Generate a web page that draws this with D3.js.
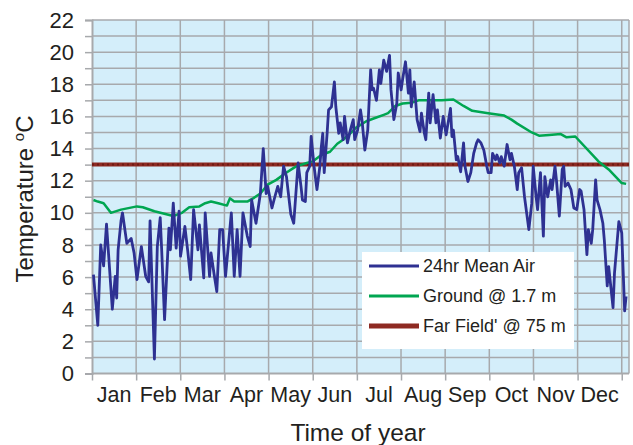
<!DOCTYPE html>
<html>
<head>
<meta charset="utf-8">
<script src="https://cdn.jsdelivr.net/npm/d3@7"></script>
<style>
  body { margin: 0; background: #fff; }
  svg { display: block; font-family: "Liberation Sans", Arial, sans-serif; }
</style>
</head>
<body>
<svg id="chart" width="633" height="445"></svg>
<script>
const months = ["Jan", "Feb", "Mar", "Apr", "May", "Jun", "Jul", "Aug", "Sep", "Oct", "Nov", "Dec"];
const yTicks = [0, 2, 4, 6, 8, 10, 12, 14, 16, 18, 20, 22];

// 24hr mean air temperature (day of year, degC)
const airDay = [1, 4, 6, 8, 10, 14, 16, 17, 18, 20, 21, 24, 27, 29, 31, 34, 37, 39, 40, 43,
  45, 47, 48, 50, 53, 54, 56, 58, 60, 61, 64, 66, 68, 70, 73, 74, 77, 78, 81, 82,
  84, 86, 88, 90, 92, 96, 98, 100, 102, 104, 107, 109, 110, 113, 116, 118, 120, 121, 124, 126,
  128, 130, 132, 134, 135, 137, 139, 142, 144, 145, 147, 148, 150, 151, 153, 155, 157, 158, 159, 160,
  162, 163, 165, 167, 168, 170, 171, 173, 174, 176, 178, 180, 181, 183, 185, 186, 188, 190, 192, 193,
  194, 196, 198, 199, 201, 203, 205, 206, 208, 210, 211, 213, 214, 216, 218, 219, 220, 222, 224, 226,
  227, 229, 230, 232, 233, 235, 237, 238, 240, 242, 244, 247, 248, 249, 251, 252, 254, 256, 257, 259,
  261, 263, 265, 266, 268, 270, 272, 273, 275, 276, 278, 279, 281, 282, 284, 286, 288, 289, 291, 293,
  294, 296, 298, 301, 303, 304, 306, 307, 309, 311, 312, 314, 316, 317, 319, 320, 322, 324, 325, 326,
  328, 330, 332, 334, 336, 337, 339, 341, 342, 344, 345, 347, 348, 350, 352, 353, 355, 356, 359, 360,
  363, 365, 367, 368];
const airTemp = [6.15, 3.0, 8.0, 6.7, 9.3, 4.0, 6.05, 4.7, 7.7, 9.5, 10.0, 8.1, 8.4, 7.5, 5.85, 7.9, 6.05, 5.7, 9.5, 0.9,
  7.9, 9.7, 7.7, 3.35, 9.05, 7.7, 10.6, 7.8, 10.1, 7.3, 9.15, 7.6, 5.85, 10.2, 7.7, 9.25, 5.95, 10.0, 6.05, 7.5,
  6.25, 5.1, 8.95, 8.95, 6.05, 10.0, 6.05, 8.95, 6.05, 10.0, 8.55, 7.9, 10.8, 9.35, 11.2, 14.0, 11.2, 11.65, 10.3, 11.0,
  11.65, 11.0, 12.9, 12.25, 11.45, 9.9, 9.35, 13.1, 11.65, 10.8, 10.7, 12.5, 12.9, 14.75, 12.9, 11.45, 12.9, 14.1, 14.95, 12.5,
  14.95, 16.4, 16.6, 18.15, 16.6, 14.95, 15.6, 14.55, 16.0, 14.35, 15.15, 15.8, 14.55, 15.15, 16.4, 15.8, 13.9, 15.15, 18.9, 17.65,
  17.75, 17.0, 18.9, 18.05, 19.5, 18.8, 19.8, 17.65, 15.8, 16.8, 18.7, 17.65, 18.3, 19.4, 17.45, 18.9, 16.6, 18.15, 15.8, 15.05,
  16.2, 14.95, 14.55, 17.45, 15.6, 17.35, 15.6, 16.4, 14.65, 16.0, 14.85, 16.5, 14.75, 15.15, 13.3, 13.5, 12.55, 14.35, 12.9, 11.95,
  12.5, 13.7, 14.35, 14.55, 14.35, 13.9, 12.9, 12.5, 12.5, 13.7, 13.3, 13.6, 13.1, 13.5, 12.9, 14.25, 13.3, 13.7, 12.9, 11.45,
  12.5, 12.8, 11.0, 8.95, 10.6, 12.9, 11.0, 10.2, 12.5, 8.55, 12.25, 11.0, 12.05, 11.45, 12.9, 12.05, 9.8, 12.7, 12.9, 11.65,
  11.85, 11.45, 10.3, 10.2, 11.45, 11.35, 10.2, 7.4, 8.95, 8.1, 8.95, 12.05, 10.8, 10.2, 9.35, 8.3, 5.45, 6.65, 4.1, 6.25,
  9.45, 8.75, 3.9, 4.8];

// ground temperature at 1.7 m
const groundDay = [1, 4, 8, 13, 20, 31, 35, 43, 56, 62, 67, 74, 78, 82, 87, 93, 95, 98, 107, 111,
  116, 121, 127, 133, 139, 141, 148, 152, 158, 164, 169, 173, 178, 182, 189, 195, 201, 204, 209, 214,
  220, 225, 234, 241, 249, 256, 262, 273, 284, 289, 293, 303, 308, 315, 323, 327, 333, 349, 356, 365, 368];
const groundTemp = [10.8, 10.7, 10.6, 10.0, 10.2, 10.4, 10.35, 10.1, 9.8, 10.0, 10.35, 10.4, 10.6, 10.7, 10.6, 10.45, 10.9, 10.7, 10.7, 10.9,
  11.2, 11.75, 12.05, 12.45, 12.8, 12.9, 13.1, 13.2, 13.6, 13.8, 14.3, 14.55, 14.95, 15.3, 15.7, 15.9, 16.1, 16.2, 16.65, 16.8,
  16.85, 17.0, 17.0, 17.0, 17.05, 16.65, 16.35, 16.2, 16.05, 15.8, 15.55, 15.0, 14.8, 14.85, 14.9, 14.7, 14.75, 13.2, 12.7, 11.85, 11.8];

// 'far field' temperature at 75 m
const farDay = [0, 370];
const farTemp = [13, 13];

const legendLabels = ["24hr Mean Air", "Ground @ 1.7 m", "Far Field' @ 75 m"];
const colors = ["#2E3192", "#00A651", "#8E2A22"];

const svg = d3.select("#chart");
const plotL = 92, plotR = 629, plotT = 20, plotB = 373.5;
const monthLen = 365 / 12;

const x = d3.scaleLinear().domain([0, 370]).range([plotL, plotR]);
const y = d3.scaleLinear().domain([0, 22]).range([plotB, plotT]);

// plot background
svg.append("rect")
  .attr("x", plotL).attr("y", plotT)
  .attr("width", plotR - plotL).attr("height", plotB - plotT)
  .attr("fill", "#D4EEFA");

// gridlines
const grid = svg.append("g").attr("stroke", "#A7A9AC").attr("stroke-width", 1.5);
grid.selectAll("line.h")
  .data(d3.range(1, 23))
  .enter().append("line")
  .attr("x1", plotL).attr("x2", plotR)
  .attr("y1", d => y(d)).attr("y2", d => y(d));
grid.selectAll("line.v")
  .data(d3.range(1, 13))
  .enter().append("line")
  .attr("x1", d => x(d * monthLen)).attr("x2", d => x(d * monthLen))
  .attr("y1", plotT).attr("y2", plotB);
grid.append("line")
  .attr("x1", plotR).attr("x2", plotR).attr("y1", plotT).attr("y2", plotB);

// axes
const yAxis = svg.append("g")
  .attr("transform", `translate(${plotL},0)`)
  .call(d3.axisLeft(y).tickValues(d3.range(0, 23)).tickSize(7).tickPadding(11)
    .tickFormat(d => yTicks.includes(d) ? d : ""));
yAxis.select(".domain").attr("stroke", "#A7A9AC").attr("stroke-width", 2);
yAxis.selectAll(".tick line").attr("stroke", "#A7A9AC").attr("stroke-width", 1.5);
yAxis.selectAll(".tick text").attr("font-size", 22).attr("fill", "#231F20")
  .attr("font-family", "Liberation Sans, Arial, sans-serif");

const xAxis = svg.append("g")
  .attr("transform", `translate(0,${plotB})`)
  .call(d3.axisBottom(x).tickValues(d3.range(0, 13).map(i => i * monthLen)).tickSize(7).tickFormat(""));
xAxis.select(".domain").attr("d", `M${plotL},0H${plotR}`).attr("stroke", "#A7A9AC").attr("stroke-width", 2);
xAxis.selectAll(".tick line").attr("stroke", "#A7A9AC").attr("stroke-width", 1.5);

svg.append("g")
  .selectAll("text")
  .data(months)
  .enter().append("text")
  .attr("x", (d, i) => x((i + 0.5) * monthLen))
  .attr("y", 402)
  .attr("text-anchor", "middle")
  .attr("font-size", 21.5)
  .attr("fill", "#231F20")
  .text(d => d);

// axis titles
svg.append("text")
  .attr("x", 358).attr("y", 441)
  .attr("text-anchor", "middle")
  .attr("font-size", 24.5)
  .attr("fill", "#231F20")
  .text("Time of year");

const yTitle = svg.append("text")
  .attr("transform", "translate(33,199) rotate(-90)")
  .attr("text-anchor", "middle")
  .attr("font-size", 24)
  .attr("fill", "#231F20");
yTitle.append("tspan").text("Temperature ");
yTitle.append("tspan").attr("font-size", 15).attr("dy", -9).text("o");
yTitle.append("tspan").attr("dy", 9).text("C");

// series
const line = d3.line().x(d => x(d[0])).y(d => y(d[1]));
svg.append("clipPath").attr("id", "plotClip")
  .append("rect").attr("x", plotL).attr("y", plotT).attr("width", plotR - plotL).attr("height", plotB - plotT);
const series = svg.append("g").attr("clip-path", "url(#plotClip)");

series.append("path")
  .datum(farDay.map((d, i) => [d, farTemp[i]]))
  .attr("d", line).attr("fill", "none")
  .attr("stroke", colors[2]).attr("stroke-width", 4);
series.append("path")
  .datum(farDay.map((d, i) => [d, farTemp[i]]))
  .attr("d", line).attr("fill", "none")
  .attr("stroke", "#6E1B14").attr("stroke-width", 2).attr("stroke-dasharray", "2,3");

series.append("path")
  .datum(groundDay.map((d, i) => [d, groundTemp[i]]))
  .attr("d", line).attr("fill", "none")
  .attr("stroke", colors[1]).attr("stroke-width", 2.5).attr("stroke-linejoin", "round");

series.append("path")
  .datum(airDay.map((d, i) => [d, airTemp[i]]))
  .attr("d", line).attr("fill", "none")
  .attr("stroke", colors[0]).attr("stroke-width", 2.8).attr("stroke-linejoin", "round");

// legend
const legend = svg.append("g").attr("transform", "translate(362,252)");
legend.append("rect").attr("width", 212).attr("height", 97).attr("fill", "#fff");
legendLabels.forEach((label, i) => {
  const row = legend.append("g").attr("transform", `translate(0,${14 + i * 30})`);
  row.append("line")
    .attr("x1", 7).attr("x2", 57)
    .attr("stroke", colors[i]).attr("stroke-width", i === 2 ? 5 : 3);
  row.append("text")
    .attr("x", 61).attr("dy", "0.35em")
    .attr("font-size", 18).attr("fill", "#231F20")
    .text(label);
});
</script>
</body>
</html>
